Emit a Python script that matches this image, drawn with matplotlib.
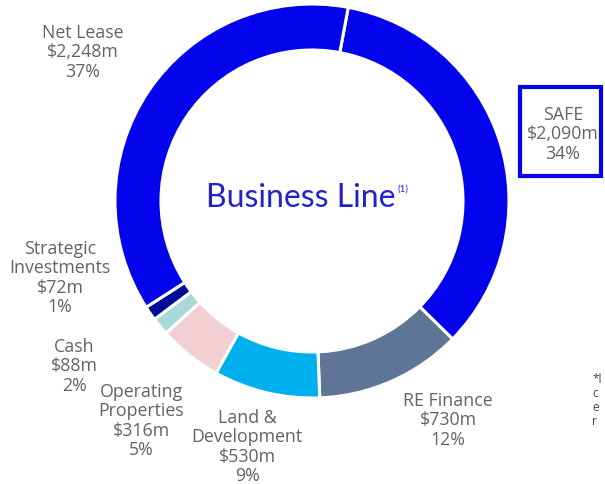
import matplotlib.pyplot as plt
from matplotlib.patches import Rectangle

# Business line breakdown, clockwise from the top
segments = ["SAFE", "RE Finance", "Land &\nDevelopment", "Operating\nProperties",
            "Cash", "Strategic\nInvestments", "Net Lease"]
amounts = [2090, 730, 530, 316, 88, 72, 2248]
shares = [34, 12, 9, 5, 2, 1, 37]
colors = ["#0303EC", "#5E7595", "#00B0EC", "#F2CFD2", "#A9D9D6", "#000C96", "#0303EC"]

W, H = 605, 485
fig = plt.figure(figsize=(W / 100, H / 100), dpi=100)
ax = fig.add_axes([0, 0, 1, 1])

cx, cy, r = 312, H - 202, 197
ax.pie(amounts, colors=colors, center=(cx, cy), radius=r, startangle=79.4,
       counterclock=False, frame=True,
       wedgeprops=dict(width=46, edgecolor="white", linewidth=2.2))
ax.set_xlim(0, W)
ax.set_ylim(0, H)
ax.set_aspect("equal")
ax.axis("off")

plt.rcParams["font.family"] = ["Open Sans", "DejaVu Sans"]
grey = "#636363"

# label anchor (centre of first line), in pixels from the top-left
label_pos = {
    "Net Lease": (83, 33),
    "SAFE": (563, 115),
    "RE Finance": (448, 401),
    "Land &\nDevelopment": (247, 418),
    "Operating\nProperties": (141, 392),
    "Cash": (74, 347),
    "Strategic\nInvestments": (60, 249),
}
line_h = 19.3
for name, amt, pct in zip(segments, amounts, shares):
    x, y = label_pos[name]
    lines = name.split("\n") + [f"${amt:,}m", f"{pct}%"]
    for i, s in enumerate(lines):
        ax.text(x, H - (y + i * line_h), s, ha="center", va="center",
                fontsize=12.8, color=grey)

# box round the SAFE label
ax.add_patch(Rectangle((520, H - 177), 81, 89, fill=False,
                       edgecolor="#0303EC", linewidth=3))

# centre title
ax.text(301, H - 198, "Business Line", ha="center", va="center",
        fontsize=23, color="#2222CC", family=["Lato", "DejaVu Sans"])
ax.text(397, H - 189, "(1)", ha="left", va="center", fontsize=7,
        color="#2222CC", family=["Lato", "DejaVu Sans"])

# footnote running off the right edge
for i, s in enumerate(["*l", "c", "e", "r"]):
    ax.text(592, H - (380 + i * 14), s, ha="left", va="center",
            fontsize=8.5, color="#444444")

fig.savefig("out.png", dpi=100)
